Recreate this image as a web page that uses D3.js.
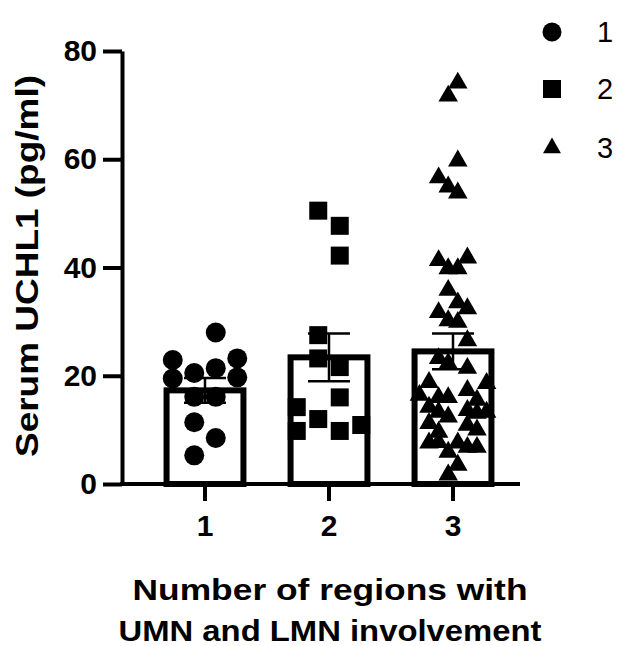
<!DOCTYPE html>
<html>
<head>
<meta charset="utf-8">
<script src="https://cdn.jsdelivr.net/npm/d3@7"></script>
<style>
  body { margin: 0; background: #fff; }
  svg text { font-family: Arial, "Liberation Sans", sans-serif; }
</style>
</head>
<body>
<div id="chart"></div>
<script>
// Serum UCHL1 by number of regions with UMN and LMN involvement

const groups = ['1', '2', '3'];
const barMeans = [17.3, 23.4, 24.5];
const barSems = [2.3, 4.4, 3.3];

// individual values per group, lane = column of the scatter within the bar
const g1Values = [28.0, 22.9, 23.2, 19.5, 20.5, 21.4, 19.7, 16.1, 16.1, 11.4, 8.5, 5.3];
const g1Lanes  = [2, 0, 3, 0, 1, 2, 3, 1, 2, 1, 2, 1];

const g2Values = [50.5, 47.7, 42.2, 27.5, 23.2, 21.6, 16.0, 14.2, 12.0, 9.8, 9.8, 10.9];
const g2Lanes  = [1, 2, 2, 1, 1, 2, 2, 0, 1, 0, 2, 3];

const g3Values = [74.1, 71.7, 59.7, 56.6, 54.9, 53.8, 41.3, 41.8, 39.8, 39.8,
                  35.8, 33.5, 32.4, 31.7, 30.2, 29.9, 26.5, 23.2, 22.3, 21.4,
                  18.8, 18.6, 17.3, 16.4, 16.0, 16.0, 15.5, 14.2, 13.6, 13.3,
                  13.3, 13.1, 12.4, 11.2, 10.9, 10.0, 9.6, 7.6, 7.6, 7.7,
                  6.8, 6.8, 5.9, 3.5, 1.7];
const g3Lanes  = [4, 3, 4, 2, 3, 4, 2, 5, 3, 4,
                  3, 4, 5, 2, 3, 4, 5, 2, 3, 5,
                  1, 7, 5, 0, 2, 3, 6, 1, 5, 2,
                  7, 6, 3, 1, 5, 6, 2, 1, 4, 2,
                  5, 6, 3, 4, 3];

const yTicks = [0, 20, 40, 60, 80];
const yTitle = 'Serum UCHL1 (pg/ml)';
const xTitle = ['Number of regions with', 'UMN and LMN involvement'];
const legendLabels = ['1', '2', '3'];

const width = 624, height = 646;

const svg = d3.select('#chart').append('svg')
    .attr('width', width)
    .attr('height', height)
    .attr('viewBox', `0 0 ${width} ${height}`);

const y = d3.scaleLinear().domain([0, 80]).range([484, 51]);
const x = d3.scaleBand().domain(groups).range([143, 515])
    .paddingInner(0.38).paddingOuter(0.19);

const shapes = [d3.symbolCircle, d3.symbolSquare, d3.symbolTriangle];
const shapeSizes = [314, 324, 165];
const laneCounts = [4, 4, 8];
const laneSteps = [21.5, 21.5, 9.6];

const pointSets = [
    { values: g1Values, lanes: g1Lanes },
    { values: g2Values, lanes: g2Lanes },
    { values: g3Values, lanes: g3Lanes }
];

// Bars
svg.append('g').selectAll('rect')
    .data(groups)
    .join('rect')
    .attr('x', d => x(d))
    .attr('y', (d, i) => y(barMeans[i]))
    .attr('width', x.bandwidth())
    .attr('height', (d, i) => y(0) - y(barMeans[i]))
    .attr('fill', '#fff')
    .attr('stroke', '#000')
    .attr('stroke-width', 6);

// Points
pointSets.forEach((set, gi) => {
    const cx = x(groups[gi]) + x.bandwidth() / 2;
    const sym = d3.symbol(shapes[gi], shapeSizes[gi]);
    svg.append('g').selectAll('path')
        .data(set.values)
        .join('path')
        .attr('d', sym)
        .attr('transform', (v, i) => {
            const px = cx + (set.lanes[i] - (laneCounts[gi] - 1) / 2) * laneSteps[gi];
            return `translate(${px},${y(v)})`;
        })
        .attr('fill', '#000');
});

// Error bars (SEM)
const eb = svg.append('g').attr('stroke', '#000').attr('stroke-width', 2.5);
groups.forEach((grp, i) => {
    const cx = x(grp) + x.bandwidth() / 2;
    const top = y(barMeans[i] + barSems[i]);
    const bot = y(barMeans[i] - barSems[i]);
    eb.append('line').attr('x1', cx).attr('x2', cx).attr('y1', top).attr('y2', bot);
    eb.append('line').attr('x1', cx - 21).attr('x2', cx + 21).attr('y1', top).attr('y2', top);
    eb.append('line').attr('x1', cx - 21).attr('x2', cx + 21).attr('y1', bot).attr('y2', bot);
});

// Y axis
const yAxis = svg.append('g')
    .attr('transform', 'translate(122,0)')
    .call(d3.axisLeft(y).tickValues(yTicks).tickSize(19).tickSizeOuter(0).tickPadding(6));
yAxis.selectAll('line, path').attr('stroke', '#000').attr('stroke-width', 4);
yAxis.selectAll('text')
    .attr('font-size', 30)
    .attr('font-weight', 'bold')
    .attr('fill', '#000');

// X axis
svg.append('line')
    .attr('x1', 120).attr('x2', 520)
    .attr('y1', y(0)).attr('y2', y(0))
    .attr('stroke', '#000').attr('stroke-width', 4);

const xAxis = svg.append('g')
    .attr('transform', `translate(0,${y(0)})`)
    .call(d3.axisBottom(x).tickSize(17).tickPadding(14));
xAxis.select('.domain').remove();
xAxis.selectAll('line').attr('stroke', '#000').attr('stroke-width', 4);
xAxis.selectAll('text')
    .attr('font-size', 30)
    .attr('font-weight', 'bold')
    .attr('fill', '#000');

// Axis titles
svg.append('text')
    .attr('transform', 'translate(38,266) rotate(-90)')
    .attr('text-anchor', 'middle')
    .attr('font-size', 31)
    .attr('font-weight', 'bold')
    .attr('textLength', 382)
    .attr('lengthAdjust', 'spacingAndGlyphs')
    .text(yTitle);

const xTitleWidths = [395, 423];
const xTitleBaselines = [600, 641];
xTitle.forEach((line, i) => {
    svg.append('text')
        .attr('x', 330)
        .attr('y', xTitleBaselines[i])
        .attr('text-anchor', 'middle')
        .attr('font-size', 30)
        .attr('font-weight', 'bold')
        .attr('textLength', xTitleWidths[i])
        .attr('lengthAdjust', 'spacingAndGlyphs')
        .text(line);
});

// Legend
const legendSizes = [283, 324, 140];
const legendY = d3.scalePoint().domain(legendLabels).range([32, 148]);
const legend = svg.append('g');
legendLabels.forEach((lab, i) => {
    const ly = legendY(lab) + (i === 1 ? -1 : 0);
    legend.append('path')
        .attr('d', d3.symbol(shapes[i], legendSizes[i]))
        .attr('transform', `translate(552,${ly})`)
        .attr('fill', '#000');
    legend.append('text')
        .attr('x', 597)
        .attr('y', ly + 10)
        .attr('font-size', 29)
        .attr('fill', '#000')
        .text(lab);
});
</script>
</body>
</html>
